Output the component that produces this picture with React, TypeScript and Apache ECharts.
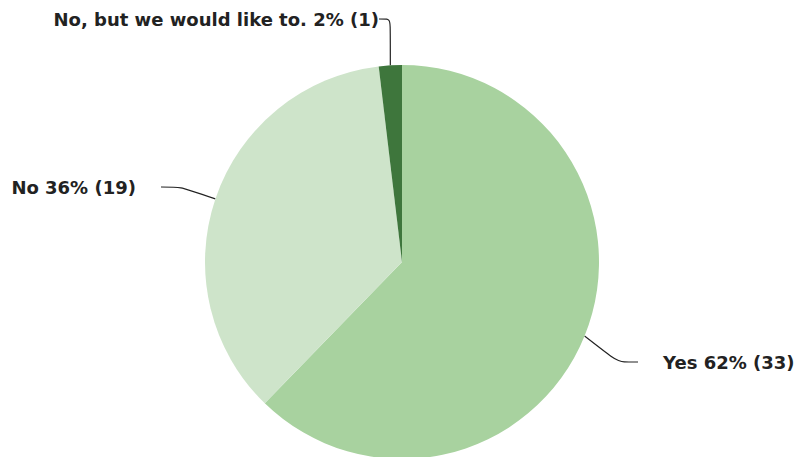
import React, { useEffect, useRef } from "react";
import * as echarts from "echarts";

const categories = ["Yes", "No", "No, but we would like to."];
const values = [33, 19, 1];
const colors = ["#a8d29f", "#cee4ca", "#3e763c"];
const labelPos = [
  { x: 638, y: 362, align: "left", pre: "    ", post: "" },
  { x: 161, y: 187, align: "right", pre: "", post: "    " },
  { x: 379, y: 19, align: "right", pre: "", post: "" },
];

export default function App() {
  const ref = useRef<HTMLDivElement>(null);
  useEffect(() => {
    const chart = echarts.init(ref.current!, null, { renderer: "svg" });
    chart.setOption({
      animation: false,
      backgroundColor: "#ffffff",
      series: [
        {
          type: "pie",
          center: [402, 262],
          radius: 197,
          startAngle: 90,
          clockwise: true,
          percentPrecision: 0,
          data: categories.map((n, i) => ({
            name: n,
            value: values[i],
            itemStyle: { color: colors[i] },
          })),
          label: {
            show: true,
            formatter: (p: any) => {
              const lp = labelPos[p.dataIndex];
              return `${lp.pre}${p.name} ${p.percent}% (${p.value})${lp.post}`;
            },
            color: "#222222",
            fontFamily: "DejaVu Sans",
            fontWeight: "bold",
            fontSize: 18,
          },
          labelLine: {
            show: true,
            smooth: 0.25,
            length: 6,
            length2: 20,
            lineStyle: { color: "#222222", width: 1.2 },
          },
          labelLayout: (p: any) => {
            const lp = labelPos[p.dataIndex];
            return {
              x: lp.x,
              y: lp.y,
              align: lp.align,
              verticalAlign: "middle",
              moveOverlap: false,
            };
          },
          emphasis: { disabled: true },
        },
      ],
    });
    return () => chart.dispose();
  }, []);
  return (
    <div
      ref={ref}
      style={{ position: "fixed", left: 0, top: 0, width: 800, height: 457 }}
    />
  );
}
